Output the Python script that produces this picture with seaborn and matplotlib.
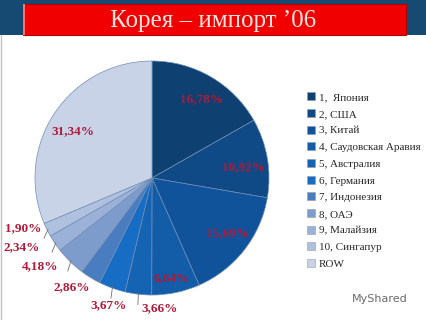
import numpy as np
import matplotlib.pyplot as plt
from matplotlib.patches import Rectangle
from matplotlib.lines import Line2D
import seaborn as sns

# Data: Korea imports 2006, share by country (%)
countries = ["1,  Япония", "2, США", "3, Китай", "4, Саудовская Аравия",
             "5, Австралия", "6, Германия", "7, Индонезия", "8, ОАЭ",
             "9, Малайзия", "10, Сингапур", "ROW"]
shares = [16.78, 10.92, 15.69, 6.64, 3.66, 3.67, 2.86, 4.18, 2.34, 1.90, 31.34]
pct_labels = ["16,78%", "10,92%", "15,69%", "6,64%", "3,66%", "3,67%",
              "2,86%", "4,18%", "2,34%", "1,90%", "31,34%"]

slice_colors = ["#0e4071", "#0f4a86", "#11539b", "#135ca7", "#1563b3", "#176dc4",
                "#4a7cc0", "#7d9bcb", "#9cb1d8", "#b0c1e0", "#c8d3e8"]

# label placement: radius (fraction of pie radius), angle shift (deg)
lab_r = [0.80, 0.79, 0.80, 0.87, 1.11, 1.15, 1.16, 1.22, 1.26, 1.18, 0.78]
lab_shift = [-2, -3, 2, -0.5, 10, 1, -4.5, -7.5, -6, -5, 3]
leader = [False, False, False, False, True, True, False, True, True, True, False]

sns.set_style("white")
plt.rcParams['font.family'] = ['Liberation Serif', 'DejaVu Serif']
palette = sns.color_palette(slice_colors)

W, H = 427, 320
fig = plt.figure(figsize=(W / 100, H / 100), dpi=100)
fig.patch.set_facecolor("white")

# header band + red title bar
fig.patches.append(Rectangle((0, 1 - 35 / H), 1, 35 / H, transform=fig.transFigure,
                             facecolor="#164a72", edgecolor="none", zorder=0))
fig.patches.append(Rectangle((23 / W, 1 - 35 / H), 383 / W, 31 / H, transform=fig.transFigure,
                             facecolor="#f00000", edgecolor="#b00000", lw=0.8, zorder=1))
fig.patches.append(Rectangle((23 / W, 1 - 35 / H), 2 / W, 31 / H, transform=fig.transFigure,
                             facecolor="#ff7070", edgecolor="none", zorder=2))
fig.text(0.5, 1 - 21 / H, "Корея – импорт ’06", ha="center", va="center",
         fontsize=18, color="#f8e6e0", zorder=3)
fig.lines.append(Line2D([1.5 / W, 1.5 / W], [0, 1 - 35 / H], transform=fig.transFigure,
                        color="#c4c4c4", lw=1))

# pie
cx, cy, R = 152, 178, 117
ax = fig.add_axes([(cx - R) / W, (H - cy - R) / H, 2 * R / W, 2 * R / H])
wedges, _ = ax.pie(shares, colors=palette, startangle=90, counterclock=False,
                   wedgeprops=dict(edgecolor="#6f8db5", linewidth=0.5))
ax.set_xlim(-1, 1)
ax.set_ylim(-1, 1)
ax.set_aspect("equal")
ax.axis("off")

for w, txt, r, sh, ld in zip(wedges, pct_labels, lab_r, lab_shift, leader):
    mid = np.deg2rad((w.theta1 + w.theta2) / 2)
    ang = mid + np.deg2rad(sh)
    x, y = r * np.cos(ang), r * np.sin(ang)
    ax.text(x, y, txt, ha="center", va="center", fontsize=9.5, fontweight="bold",
            color="#b01a3a", clip_on=False)
    if ld:
        ex, ey = 0.99 * np.cos(mid), 0.99 * np.sin(mid)
        ax.plot([ex, ex + 0.04 * np.cos(mid)], [ey, ey + 0.04 * np.sin(mid) - 0.06],
                color="#707070", lw=0.6, clip_on=False)

# legend
handles = [Rectangle((0, 0), 1, 1, facecolor=c, edgecolor="#9a9a9a", lw=0.4) for c in palette]
fig.legend(handles, countries, loc="upper left", bbox_to_anchor=(303 / W, 1 - 88 / H),
           frameon=False, fontsize=8, handlelength=0.7, handleheight=0.7,
           handletextpad=0.3, labelspacing=0.62, borderaxespad=0)

fig.text(408 / W, 1 - 299 / H, "MyShared", ha="right", va="center", fontsize=8,
         color="#6a6a6a", family="DejaVu Sans")

fig.savefig("out.png", dpi=100)
